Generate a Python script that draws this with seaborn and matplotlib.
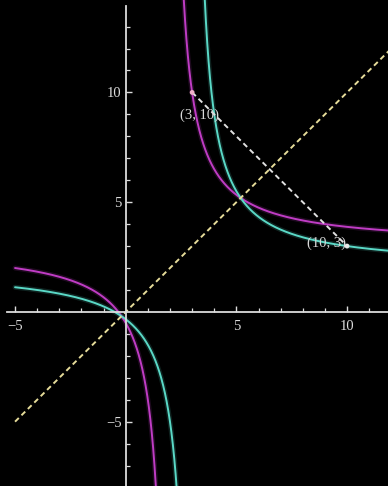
import numpy as np
import pandas as pd
import matplotlib
matplotlib.use("Agg")
import matplotlib.pyplot as plt
import seaborn as sns

# Two Moebius maps y = (a*x + b) / (c*x + d); the second is the inverse of the first
curve_names = ["f", "g"]
curve_coeffs = {"f": (3.0, 1.0, 1.0, -2.0), "g": (2.0, 1.0, 1.0, -3.0)}
curve_colors = {"f": "#bf3cc4", "g": "#5ad8c6"}

# Marked points and their labels
point_x = [3, 10]
point_y = [10, 3]
point_labels = ["(3, 10)", "(10, 3)"]
point_colors = ["#f0b0c8", "#e8e8e8"]
label_x = [3.35, 9.05]
label_y = [8.95, 3.15]

# Diagonal y = x
diag_x = [-5, 12]
diag_y = [-5, 12]

x_domain = (-5.0, 12.0)
y_clip = (-9.0, 15.0)
major_ticks_x = [-5, 5, 10]
major_ticks_y = [-5, 5, 10]

sns.set_theme(style="dark")
plt.rcParams.update({
    "figure.facecolor": "black",
    "axes.facecolor": "black",
    "lines.scale_dashes": False,
})
plt.rcParams["font.family"] = ["Liberation Serif", "DejaVu Serif"]

# Sample each curve on both sides of its vertical asymptote
rows = []
for name in curve_names:
    a, b, c, d = curve_coeffs[name]
    pole = -d / c
    for k, (lo, hi) in enumerate([(x_domain[0], pole - 1e-3), (pole + 1e-3, x_domain[1])]):
        xs = np.linspace(lo, hi, 2000)
        ys = (a * xs + b) / (c * xs + d)
        keep = (ys > y_clip[0]) & (ys < y_clip[1])
        for xv, yv in zip(xs[keep], ys[keep]):
            rows.append((name, k, xv, yv))
df = pd.DataFrame(rows, columns=["curve", "branch", "x", "y"])

fig = plt.figure(figsize=(3.88, 4.86), dpi=100)
ax = fig.add_axes([0, 0, 1, 1])

# soft glow underneath the curves
sns.lineplot(data=df, x="x", y="y", hue="curve", units="branch", estimator=None,
             palette=curve_colors, linewidth=3.6, alpha=0.16, legend=False,
             sort=False, ax=ax)
sns.lineplot(data=df, x="x", y="y", hue="curve", units="branch", estimator=None,
             palette=curve_colors, linewidth=1.4, legend=False, sort=False, ax=ax)

sns.lineplot(x=diag_x, y=diag_y, color="#e6dc9a", linewidth=1.4,
             linestyle=(0, (3.8, 2.7)), ax=ax)
sns.lineplot(x=point_x, y=point_y, color="#e0e0e0", linewidth=1.4,
             linestyle=(0, (3.8, 2.7)), ax=ax)
sns.scatterplot(x=point_x, y=point_y, hue=point_labels, palette=point_colors,
                s=12, edgecolor="none", legend=False, ax=ax, zorder=5)

for lx, ly, txt in zip(label_x, label_y, point_labels):
    ax.text(lx, ly, txt, color="#d8d8d8", fontsize=10.5, ha="center", va="center")

ax.set_xlim(-5.68, 11.85)
ax.set_ylim(-7.93, 14.21)

# axes through the origin
for side in ["top", "right"]:
    ax.spines[side].set_visible(False)
ax.spines["left"].set_position(("data", 0))
ax.spines["bottom"].set_position(("data", 0))
ax.spines["left"].set_bounds(-7.93, 13.94)
ax.spines["bottom"].set_bounds(-5.37, 11.85)
for side in ["left", "bottom"]:
    ax.spines[side].set_color("#dcdcdc")
    ax.spines[side].set_linewidth(1.3)
    ax.spines[side].set_visible(True)

ax.set_xticks(major_ticks_x)
ax.set_yticks(major_ticks_y)
ax.set_xticks([v for v in range(-5, 12) if v not in (0, -5, 5, 10)], minor=True)
ax.set_yticks([v for v in range(-7, 14) if v not in (0, -5, 5, 10)], minor=True)
ax.set_xticklabels(["\u22125", "5", "10"])
ax.set_yticklabels(["\u22125", "5", "10"])
ax.tick_params(which="major", direction="in", length=4.5, width=1.0,
               color="#dcdcdc", labelcolor="#dcdcdc", labelsize=10.5)
ax.tick_params(axis="x", which="major", pad=6)
ax.tick_params(axis="y", which="major", pad=3)
ax.tick_params(which="minor", direction="in", length=2.6, width=0.9,
               color="#dcdcdc")
ax.tick_params(bottom=True, left=True, which="both")
ax.set_xlabel("")
ax.set_ylabel("")
ax.grid(False)

fig.savefig("out.png", dpi=100, facecolor="black")
